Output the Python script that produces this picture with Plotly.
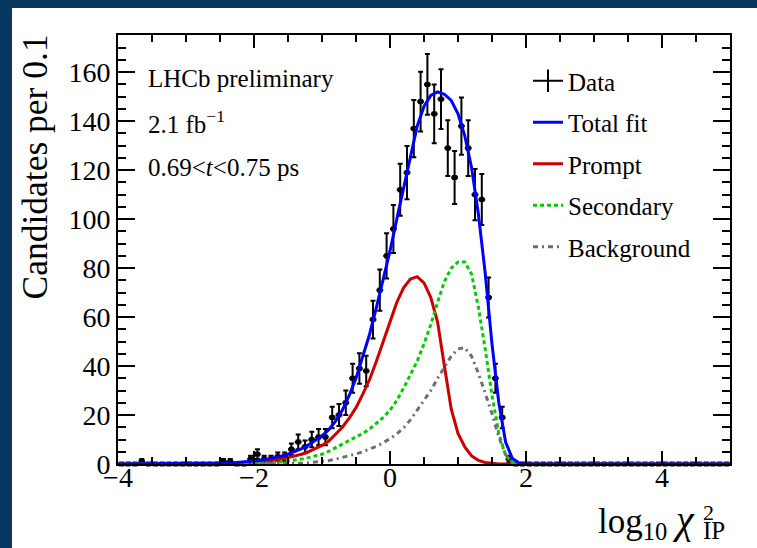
import plotly.graph_objects as go

# ---------------- data ----------------
bin_lo = -4.0
bin_width = 0.1
# 90 bins from -4 to 5 (counts per 0.1)
counts = [0, 0, 0, 1, 0, 0, 0, 0, 0, 0,
          0, 0, 0, 0, 0, 1, 1, 0, 0, 2,
          4, 2, 2, 3, 3, 6, 9, 7, 10, 11,
          11, 19, 20, 25, 35, 39, 38, 59, 71, 85,
          96, 112, 119, 137, 148, 155, 143, 149, 129, 117,
          138, 129, 110, 108, 68, 35, 19, 2, 0, 0,
          0, 0, 0, 0, 0, 0, 0, 0, 0, 0,
          0, 0, 0, 0, 0, 0, 0, 0, 0, 0,
          0, 0, 0, 0, 0, 0, 0, 0, 0, 0]
count_err = [0, 0, 0, 1.0, 0, 0, 0, 0, 0, 0,
             0, 0, 0, 0, 0, 1.0, 1.0, 0, 0, 1.4,
             2.0, 1.4, 1.4, 1.7, 1.7, 2.4, 3.0, 2.6, 3.2, 3.3,
             3.3, 4.4, 4.5, 5.0, 5.9, 6.2, 6.2, 7.7, 8.4, 9.2,
             9.8, 10.6, 10.9, 11.7, 12.2, 12.4, 12.0, 12.2, 11.4, 10.8,
             11.7, 11.4, 10.5, 10.4, 8.2, 5.9, 4.4, 1.4, 0, 0,
             0, 0, 0, 0, 0, 0, 0, 0, 0, 0,
             0, 0, 0, 0, 0, 0, 0, 0, 0, 0,
             0, 0, 0, 0, 0, 0, 0, 0, 0, 0]

curve_x = [-4.0, -3.0, -2.5, -2.4, -2.3, -2.2, -2.1, -2.0, -1.9, -1.8, -1.7, -1.6,
           -1.5, -1.4, -1.3, -1.2, -1.1, -1.0, -0.9, -0.8, -0.7, -0.6, -0.5, -0.4,
           -0.3, -0.2, -0.1, 0.0, 0.1, 0.2, 0.3, 0.4, 0.5, 0.6, 0.7, 0.8, 0.9,
           1.0, 1.1, 1.2, 1.3, 1.4, 1.5, 1.6, 1.7, 1.8, 1.9, 2.0, 3.0, 5.0]
total_fit = [0.0, 0.1, 0.3, 0.4, 0.5, 0.7, 0.9, 1.2, 1.5, 2.0, 2.5, 3.2,
             4.0, 5.0, 6.3, 7.8, 9.5, 11.5, 14.0, 17.5, 22.0, 28.0, 35.0, 44.0,
             53.0, 64.0, 75.0, 87.0, 100.0, 113.0, 126.0, 138.0, 146.0, 150.5, 152.0, 151.0, 148.5,
             143.0, 134.0, 121.0, 102.0, 78.0, 49.0, 25.0, 9.0, 2.2, 0.4, 0.05, 0.0, 0.0]
prompt = [0.0, 0.0, 0.0, 0.05, 0.1, 0.2, 0.3, 0.5, 0.8, 1.1, 1.5, 2.0,
          2.6, 3.2, 4.0, 5.0, 6.2, 7.6, 9.4, 12.0, 15.0, 18.7, 23.0, 28.5,
          34.5, 42.0, 50.0, 58.0, 66.0, 72.0, 75.5, 76.5, 74.0, 68.0, 58.0, 40.0, 22.5,
          12.5, 7.0, 3.3, 1.5, 0.6, 0.2, 0.05, 0.0, 0.0, 0.0, 0.0, 0.0, 0.0]
secondary = [0.0, 0.0, 0.0, 0.0, 0.0, 0.0, 0.0, 0.0, 0.1, 0.3, 0.5, 0.8,
             1.1, 1.5, 2.0, 2.6, 3.3, 4.0, 5.2, 6.6, 8.0, 9.5, 11.0, 12.5,
             14.3, 16.5, 19.0, 22.0, 26.0, 31.0, 36.5, 42.0, 49.0, 57.0, 66.0, 74.5, 80.0,
             82.5, 82.5, 77.5, 64.0, 47.0, 28.0, 12.5, 3.5, 0.5, 0.05, 0.0, 0.0, 0.0]
background = [0.0, 0.0, 0.0, 0.0, 0.0, 0.0, 0.0, 0.0, 0.0, 0.0, 0.0, 0.0,
              0.1, 0.2, 0.3, 0.5, 0.7, 1.0, 1.4, 2.0, 2.6, 3.3, 4.1, 5.0,
              6.0, 7.2, 8.7, 10.3, 12.3, 14.7, 18.0, 22.0, 26.0, 30.0, 35.0, 39.5, 44.0,
              47.0, 47.5, 44.0, 37.0, 29.0, 20.5, 11.0, 3.8, 0.6, 0.1, 0.0, 0.0, 0.0]

x_ticks = [-4, -2, 0, 2, 4]
x_tick_labels = ["\u22124", "\u22122", "0", "2", "4"]
y_ticks = [0, 20, 40, 60, 80, 100, 120, 140, 160]

bin_centers = [bin_lo + bin_width * (k + 0.5) for k in range(len(counts))]

# ---------------- layout geometry (pixels) ----------------
W, H = 757, 548
PL, PR, PT, PB = 118, 730, 35, 464


def px(xp):
    return (xp - PL) / (PR - PL)


def py(yp):
    return (PB - yp) / (PB - PT)


SERIF = "Liberation Serif"
BORDER = "#08375f"

fig = go.Figure()

# data points
fig.add_trace(go.Scatter(
    x=bin_centers, y=counts, mode="markers",
    marker=dict(symbol="square", size=5, color="black"),
    error_y=dict(type="data", array=count_err, visible=True, color="black",
                 thickness=2, width=2.5),
    error_x=dict(type="constant", value=bin_width / 2, visible=True, color="black",
                 thickness=2.5, width=0),
    showlegend=False, name="Data", cliponaxis=False,
))

fig.add_trace(go.Scatter(x=curve_x, y=prompt, mode="lines", name="Prompt",
                         line=dict(color="#cc0000", width=3), showlegend=False))
fig.add_trace(go.Scatter(x=curve_x, y=secondary, mode="lines", name="Secondary",
                         line=dict(color="#00cc00", width=3, dash="4px,3px"), showlegend=False))
fig.add_trace(go.Scatter(x=curve_x, y=background, mode="lines", name="Background",
                         line=dict(color="#6e6e6e", width=3, dash="5px,4px,2px,4px"), showlegend=False))
fig.add_trace(go.Scatter(x=curve_x, y=total_fit, mode="lines", name="Total fit",
                         line=dict(color="#0000ff", width=3), showlegend=False))

# legend-only entries
leg = [
    ("Data", dict(mode="lines+markers", line=dict(color="black", width=2),
                  marker=dict(symbol="line-ns-open", size=18, color="black",
                              line=dict(color="black", width=2)))),
    ("Total fit", dict(mode="lines", line=dict(color="#0000ff", width=3))),
    ("Prompt", dict(mode="lines", line=dict(color="#cc0000", width=3))),
    ("Secondary", dict(mode="lines", line=dict(color="#00cc00", width=3, dash="4px,3px"))),
    ("Background", dict(mode="lines", line=dict(color="#6e6e6e", width=3, dash="5px,4px,2px,4px"))),
]
for i, (nm, kw) in enumerate(leg):
    fig.add_trace(go.Scatter(x=[None], y=[None], name=nm, legendgroup=f"g{i}",
                             showlegend=True, **kw))

axis_common = dict(
    showline=True, linecolor="black", linewidth=2, mirror="ticks",
    ticks="inside", tickcolor="black", tickwidth=2,
    showgrid=False, zeroline=False,
    tickfont=dict(family=SERIF, size=28, color="black"),
)

fig.update_xaxes(range=[-4, 5], tickvals=x_ticks, ticktext=x_tick_labels, ticklen=13,
                 ticklabelstandoff=-13,
                 minor=dict(dtick=0.5, tick0=0, ticks="inside", ticklen=7, tickwidth=2,
                            tickcolor="black", showgrid=False),
                 **axis_common)
fig.update_yaxes(range=[0, 175.2], tickvals=y_ticks, ticklen=17,
                 minor=dict(dtick=5, tick0=0, ticks="inside", ticklen=8, tickwidth=2,
                            tickcolor="black", showgrid=False),
                 **axis_common)

annotations = [
    dict(text="LHCb preliminary", x=px(146), y=py(79), xanchor="left", yanchor="middle"),
    dict(text="2.1 fb<sup>\u22121</sup>", x=px(146), y=py(122), xanchor="left", yanchor="middle"),
    dict(text="0.69&lt;<i>t</i>&lt;0.75 ps", x=px(146), y=py(167), xanchor="left", yanchor="middle"),
]
for a in annotations:
    a.update(xref="paper", yref="paper", showarrow=False,
             font=dict(family=SERIF, size=25, color="black"))

# axis titles
annotations += [
    dict(text="Candidates per 0.1", x=px(35), y=py(33), xref="paper", yref="paper",
         xanchor="center", yanchor="top", textangle=-90, showarrow=False,
         font=dict(family=SERIF, size=35.5, color="black")),
    dict(text="log<sub>10</sub> <span style='font-size:40px'><i>\u03c7</i></span>",
         x=px(697), y=py(521), xref="paper", yref="paper",
         xanchor="right", yanchor="middle", showarrow=False,
         font=dict(family=SERIF, size=35, color="black")),
    dict(text="<span style='font-size:22px'>2</span><br><span style='font-size:25px'>IP</span>",
         x=px(701), y=py(522), xref="paper", yref="paper", align="left",
         xanchor="left", yanchor="middle", showarrow=False,
         font=dict(family=SERIF, size=14.6, color="black")),
]

shapes = [
    dict(type="rect", xref="paper", yref="paper", x0=px(0), x1=px(W), y0=py(8), y1=py(0),
         fillcolor=BORDER, line=dict(width=0), layer="above"),
    dict(type="rect", xref="paper", yref="paper", x0=px(0), x1=px(12), y0=py(H), y1=py(0),
         fillcolor=BORDER, line=dict(width=0), layer="above"),
]

fig.update_layout(
    width=W, height=H,
    margin=dict(l=PL, r=W - PR, t=PT, b=H - PB, pad=0),
    paper_bgcolor="white", plot_bgcolor="white",
    annotations=annotations, shapes=shapes,
    legend=dict(x=px(528), y=py(58), xanchor="left", yanchor="top",
                bgcolor="rgba(0,0,0,0)", borderwidth=0, tracegroupgap=6,
                font=dict(family=SERIF, size=25, color="black"),
                traceorder="grouped"),
    showlegend=True,
)

fig.write_html("out.html")
